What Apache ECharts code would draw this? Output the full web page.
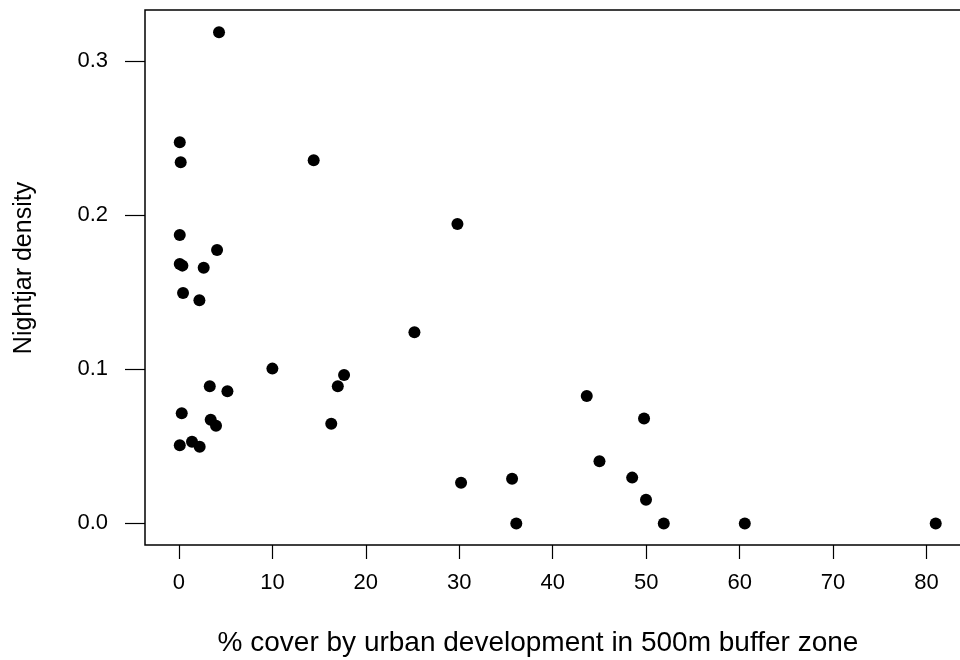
<!DOCTYPE html>
<html lang="en">

<head>
    <meta charset="UTF-8">
    <title>Nightjar density</title>
    <script src="https://cdn.jsdelivr.net/npm/echarts@6/dist/echarts.min.js"></script>
    <style>
        body { margin: 0; background: #fff; overflow: hidden; }
    </style>
</head>

<body>
    <!-- a bit wider than the window: the original plot box is cut off at the right edge -->
    <div id="chart" style="width: 980px; height: 660px;"></div>
    <script>
        // % urban cover in 500m buffer zone
        const urbanCover = [
            4.29, 0.09, 0.19, 14.42, 29.8, 0.09, 4.08, 0.09, 0.37, 2.65,
            0.44, 2.19, 25.2, 10.0, 17.67, 17.0, 3.3, 5.19, 0.3, 3.4,
            3.97, 16.3, 1.4, 0.09, 2.22, 30.19, 43.64, 49.77, 45.0, 35.65,
            48.5, 49.98, 36.1, 51.88, 60.55, 80.98
        ];
        // nightjar density
        const density = [
            0.3185, 0.2472, 0.2342, 0.2355, 0.1942, 0.1871, 0.1774, 0.1683, 0.1672, 0.1659,
            0.1495, 0.1447, 0.124, 0.1004, 0.0963, 0.089, 0.089, 0.0857, 0.0714, 0.0673,
            0.0634, 0.0647, 0.053, 0.0507, 0.0498, 0.0263, 0.0827, 0.068, 0.0403, 0.0289,
            0.0297, 0.0154, 0, 0, 0, 0
        ];
        const xTicks = [0, 10, 20, 30, 40, 50, 60, 70, 80];
        const yTicks = [0, 0.1, 0.2, 0.3];

        const font = '"Liberation Sans", Arial, sans-serif';
        const chart = echarts.init(document.getElementById('chart'));
        chart.setOption({
            animation: false,
            backgroundColor: '#fff',
            grid: {
                left: 145, top: 10, width: 821, height: 535,
                show: true, borderColor: '#000', borderWidth: 1.5, backgroundColor: 'transparent'
            },
            xAxis: {
                type: 'value',
                min: -3.63,
                max: 84.22,
                splitLine: { show: false },
                axisLine: { show: false, onZero: false },
                axisTick: { show: true, length: 14, customValues: xTicks, lineStyle: { color: '#000', width: 1.2 } },
                axisLabel: {
                    customValues: xTicks, margin: 27,
                    color: '#000', fontSize: 22, fontFamily: font
                }
            },
            yAxis: {
                type: 'value',
                min: -0.014,
                max: 0.333,
                splitLine: { show: false },
                axisLine: { show: false, onZero: false },
                axisTick: { show: true, length: 20, customValues: yTicks, lineStyle: { color: '#000', width: 1.2 } },
                axisLabel: {
                    customValues: yTicks, margin: 37,
                    color: '#000', fontSize: 22, fontFamily: font,
                    formatter: v => v.toFixed(1)
                }
            },
            graphic: [
                {
                    type: 'text', x: 538, y: 643,
                    style: {
                        text: '% cover by urban development in 500m buffer zone',
                        fontSize: 28, fontFamily: font, fill: '#000',
                        align: 'center', verticalAlign: 'middle'
                    }
                },
                {
                    type: 'text', x: 24, y: 268, rotation: Math.PI / 2,
                    style: {
                        text: 'Nightjar density',
                        fontSize: 25, fontFamily: font, fill: '#000',
                        align: 'center', verticalAlign: 'middle'
                    }
                }
            ],
            series: [{
                type: 'scatter',
                symbol: 'circle',
                symbolSize: 12,
                itemStyle: { color: '#000', opacity: 1 },
                data: urbanCover.map((x, i) => [x, density[i]])
            }]
        });
    </script>
</body>

</html>
